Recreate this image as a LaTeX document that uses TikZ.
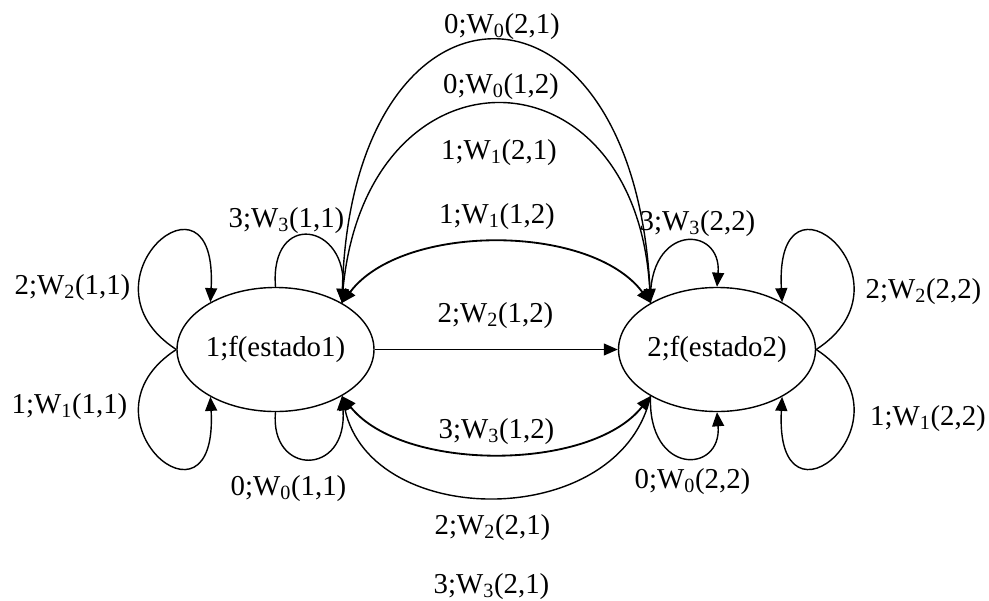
\documentclass[tikz,border=0pt]{standalone}
\usepackage{fontspec}
\setmainfont{Liberation Serif}
\usepackage{tikz}
\usetikzlibrary{shapes.geometric}
\usetikzlibrary{arrows.meta}

\tikzset{
	estado/.style={draw, line width=1pt, ellipse, minimum width=4.57cm, minimum height=3.1cm, inner sep=0pt},
	trans/.style={-{Triangle[length=10pt,width=8.5pt]}, line width=1pt},
	trans2/.style={{Triangle[length=10pt,width=8.5pt]}-{Triangle[length=10pt,width=8.5pt]}, line width=1.3pt},
	lbl/.style={anchor=base, inner sep=0pt}
}

\begin{document}
\begin{tikzpicture}[x=0.025cm, y=-0.025cm, font=\fontsize{20.5}{24}\selectfont]
	
	\useasboundingbox (0,0) rectangle (989,600);
	
	% states
	\node[estado] (e1) at (275.5,349.5) {1;f(estado1)};
	\node[estado] (e2) at (717,349.5) {2;f(estado2)};
	
	% straight edge
	\draw[trans] (e1.east) -- (e2.west);
	
	% arcs above
	\draw[trans] (e2.145) .. controls +(-10,-350) and +(10,-350) .. (e1.35);
	\draw[trans] (e1.35) .. controls +(15,-265) and +(-15,-265) .. (e2.145);
	\draw[trans2] (e1.35) .. controls +(60,-80) and +(-60,-80) .. (e2.145);
	
	% arcs below
	\draw[trans2] (e1.-35) .. controls +(60,76) and +(-60,76) .. (e2.-145);
	\draw[trans] (e2.-145) .. controls +(-30,135) and +(30,135) .. (e1.-35);
	
	% loops on state 1
	\draw[trans] (e1.west) .. controls +(-105,-68) and +(8,-148) .. (e1.144);
	\draw[trans] (e1.west) .. controls +(-105,68) and +(8,148) .. (e1.216);
	\draw[trans] (e1.north) .. controls +(-6,-77) and +(6,-80) .. (e1.35);
	\draw[trans] (e1.south) .. controls +(-6,64) and +(6,81) .. (e1.-35);
	
	% loops on state 2
	\draw[trans] (e2.145) .. controls +(-3,-80) and +(5,-62) .. (e2.north);
	\draw[trans] (e2.east) .. controls +(105,-68) and +(-8,-148) .. (e2.36);
	\draw[trans] (e2.east) .. controls +(105,68) and +(-8,148) .. (e2.-36);
	\draw[trans] (e2.-145) .. controls +(-3,80) and +(5,62) .. (e2.south);
	
	% labels
	\node[lbl] (w0a) at (502,33) {0;W\textsubscript{0}(2,1)};
	\node[lbl] (w0b) at (501,93) {0;W\textsubscript{0}(1,2)};
	\node[lbl] (w1a) at (499,159) {1;W\textsubscript{1}(2,1)};
	\node[lbl] (w1b) at (497,223) {1;W\textsubscript{1}(1,2)};
	\node[lbl] (w2b) at (495.5,322) {2;W\textsubscript{2}(1,2)};
	\node[lbl] (w3b) at (496.5,438) {3;W\textsubscript{3}(1,2)};
	\node[lbl] (w2a) at (492.5,534) {2;W\textsubscript{2}(2,1)};
	\node[lbl] (w3a) at (491.5,593) {3;W\textsubscript{3}(2,1)};
	
	\node[lbl] (w311) at (286.5,227) {3;W\textsubscript{3}(1,1)};
	\node[lbl] (w211) at (72.5,294) {2;W\textsubscript{2}(1,1)};
	\node[lbl] (w111) at (69.5,413) {1;W\textsubscript{1}(1,1)};
	\node[lbl] (w011) at (288.5,495) {0;W\textsubscript{0}(1,1)};
	
	\node[lbl] (w322) at (697.5,230) {3;W\textsubscript{3}(2,2)};
	\node[lbl] (w222) at (923.5,298) {2;W\textsubscript{2}(2,2)};
	\node[lbl] (w122) at (928,425) {1;W\textsubscript{1}(2,2)};
	\node[lbl] (w022) at (692.5,488) {0;W\textsubscript{0}(2,2)};
	
\end{tikzpicture}
\end{document}
